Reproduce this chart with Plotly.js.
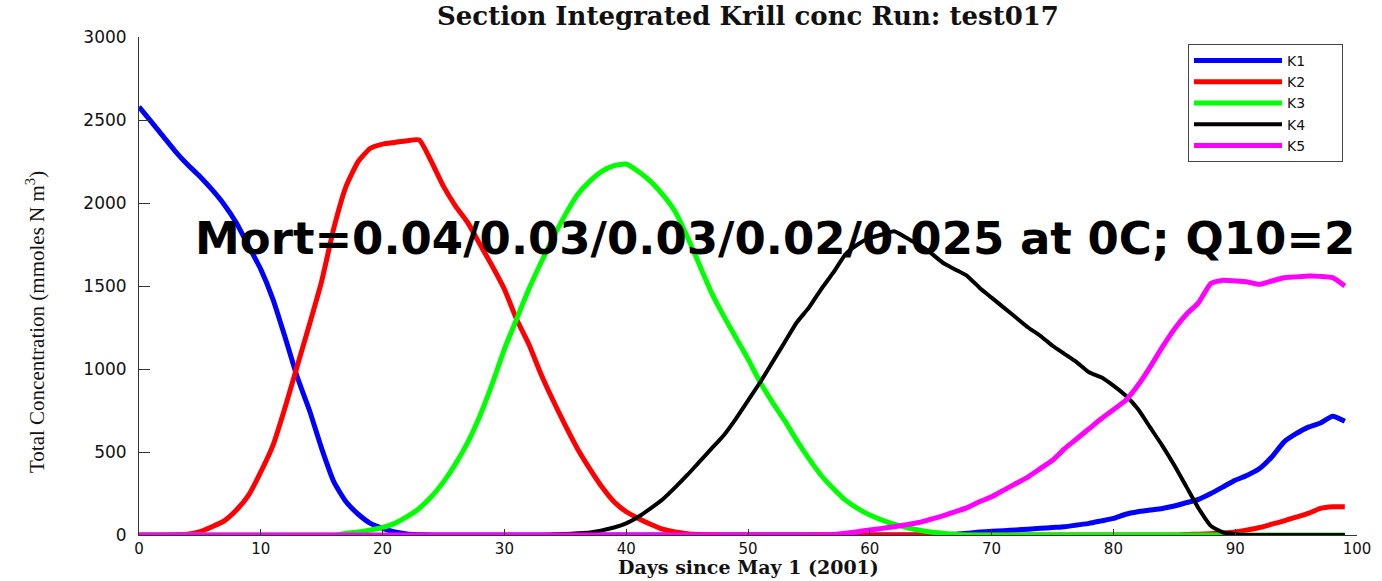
<!DOCTYPE html>
<html>
<head>
<meta charset="utf-8">
<script src="https://cdn.plot.ly/plotly-3.0.1.min.js"></script>
<style>
  html, body { margin: 0; padding: 0; background: #ffffff; }
  #chart { width: 1382px; height: 581px; }
</style>
</head>
<body>
<div id="chart"></div>
<script>
// ---- Data ----
const days = [
  0,1,2,3,4,5,6,7,8,9,
  10,11,12,13,14,15,16,17,18,19,
  20,21,22,23,24,25,26,27,28,29,
  30,31,32,33,34,35,36,37,38,39,
  40,41,42,43,44,45,46,47,48,49,
  50,51,52,53,54,55,56,57,58,59,
  60,61,62,63,64,65,66,67,68,69,
  70,71,72,73,74,75,76,77,78,79,
  80,81,82,83,84,85,86,87,88,89,
  90,91,92,93,94,95,96,97,98,99
];

const K1 = [
  2580,2490,2400,2310,2230,2160,2080,1990,1880,1740,
  1600,1420,1190,950,750,520,320,200,125,70,
  40,18,6,2,0,0,0,0,0,0,
  0,0,0,0,0,0,0,0,0,0,
  0,0,0,0,0,0,0,0,0,0,
  0,0,0,0,0,0,0,0,0,0,
  0,0,0,0,0,0,0,5,10,18,
  22,26,30,35,40,45,50,60,70,85,
  100,125,140,150,160,175,195,215,250,290,
  330,360,400,470,560,610,650,675,715,685
];

const K2 = [
  0,0,0,2,5,20,50,85,150,240,
  380,540,770,1020,1270,1530,1850,2100,2250,2330,
  2355,2365,2375,2380,2250,2100,1980,1880,1750,1620,
  1480,1300,1150,970,810,660,520,400,290,200,
  140,100,65,35,18,8,3,0,0,0,
  0,0,0,0,0,0,0,0,0,0,
  0,0,0,0,0,0,0,0,0,0,
  0,0,0,0,0,0,0,0,0,0,
  0,0,0,0,0,0,3,5,8,12,
  18,30,45,65,85,108,130,160,170,170
];

const K3 = [
  0,0,0,0,0,0,0,0,0,0,
  0,0,0,0,0,0,0,10,18,30,
  45,70,110,160,230,320,430,560,720,910,
  1120,1300,1480,1640,1790,1930,2050,2130,2190,2225,
  2235,2190,2130,2050,1950,1800,1630,1460,1320,1190,
  1060,920,800,690,570,460,360,280,210,160,
  120,90,65,45,30,18,10,3,0,0,
  0,0,0,0,0,0,0,0,0,0,
  0,0,0,0,0,0,0,0,0,0,
  0,0,0,0,0,0,0,0,0,0
];

const K4 = [
  0,0,0,0,0,0,0,0,0,0,
  0,0,0,0,0,0,0,0,0,0,
  0,0,0,0,0,0,0,0,0,0,
  0,0,0,0,3,6,10,15,28,45,
  70,110,160,215,285,360,440,520,600,700,
  810,920,1040,1160,1280,1370,1480,1580,1690,1750,
  1790,1810,1830,1790,1750,1700,1640,1600,1560,1490,
  1430,1370,1310,1250,1200,1140,1090,1040,980,950,
  900,840,760,650,540,420,290,160,55,15,
  5,0,0,0,0,0,0,0,0,0
];

const K5 = [
  0,0,0,0,0,0,0,0,0,0,
  0,0,0,0,0,0,0,0,0,0,
  0,0,0,0,0,0,0,0,0,0,
  0,0,0,0,0,0,0,0,0,0,
  0,0,0,0,0,0,0,0,0,0,
  0,0,0,0,0,0,0,3,10,20,
  30,40,50,62,75,95,115,140,165,200,
  230,270,310,350,400,450,520,580,640,700,
  755,810,900,1010,1130,1240,1330,1400,1515,1535,
  1530,1524,1510,1530,1550,1555,1560,1558,1550,1500
];

const seriesNames = ['K1','K2','K3','K4','K5'];
const seriesColors = ['#0000ff','#ff0000','#00ff00','#000000','#ff00ff'];
const seriesWidths = [5,5,5,4,5];
const seriesValues = [K1,K2,K3,K4,K5];

const xTickVals = [0,10,20,30,40,50,60,70,80,90,100];
const xTickText = ['0','10','20','30','40','50','60','70','80','90','100'];
const yTickVals = [0,500,1000,1500,2000,2500,3000];
const yTickText = ['0','500','1000','1500','2000','2500','3000'];

const titleText = '<b>Section Integrated Krill conc Run: test017</b>';
const xTitleText = '<b>Days since May 1 (2001)</b>';
const yTitleText = 'Total Concentration (mmoles N m<sup>3</sup>)';
const noteText = '<b>Mort=0.04/0.03/0.03/0.02/0.025 at 0C; Q10=2</b>';

// ---- Build traces ----
const pad = '\u00a0\u00a0\u00a0\u00a0\u00a0\u00a0\u00a0';
const traces = seriesNames.map((name, i) => ({
  type: 'scatter',
  mode: 'lines',
  name: name + pad,
  x: days,
  y: seriesValues[i],
  line: { color: seriesColors[i], width: seriesWidths[i], shape: 'spline', smoothing: 0.5 }
}));

const W = 1382, H = 581;
const mL = 139, mR = 25, mT = 37, mB = 46;
const plotW = W - mL - mR, plotH = H - mT - mB;

const layout = {
  width: W,
  height: H,
  margin: { l: mL, r: mR, t: mT, b: mB, pad: 0 },
  paper_bgcolor: '#ffffff',
  plot_bgcolor: '#ffffff',
  title: {
    text: titleText,
    font: { family: 'DejaVu Serif', size: 26, color: '#111111' },
    x: 0.5, xref: 'paper', xanchor: 'center',
    y: 1 - 16 / H, yref: 'container', yanchor: 'middle'
  },
  xaxis: {
    range: [0, 100],
    tickmode: 'array',
    tickvals: xTickVals,
    ticktext: xTickText,
    ticks: 'inside',
    ticklen: 6,
    tickwidth: 1,
    tickcolor: '#333333',
    showline: true,
    linecolor: '#333333',
    linewidth: 1,
    showgrid: false,
    zeroline: false,
    ticklabelstandoff: 0,
    tickfont: { family: 'DejaVu Sans', size: 15, color: '#111111' }
  },
  yaxis: {
    range: [0, 3000],
    tickmode: 'array',
    tickvals: yTickVals,
    ticktext: yTickText,
    ticks: 'inside',
    ticklen: 11,
    tickwidth: 1,
    tickcolor: '#333333',
    showline: true,
    linecolor: '#333333',
    linewidth: 1,
    showgrid: false,
    zeroline: false,
    ticklabelstandoff: 8,
    tickfont: { family: 'DejaVu Sans', size: 17, color: '#111111' }
  },
  legend: {
    x: (1343 - mL) / plotW,
    y: (535 - 44) / plotH,
    xanchor: 'right',
    yanchor: 'top',
    bgcolor: '#ffffff',
    bordercolor: '#444444',
    borderwidth: 1,
    itemwidth: 88,
    tracegroupgap: 0,
    font: { family: 'DejaVu Sans', size: 14, color: '#111111' }
  },
  annotations: [
    {
      xref: 'paper', yref: 'paper',
      x: 0.5,
      y: -(567 - 535) / plotH,
      xanchor: 'center', yanchor: 'middle',
      text: xTitleText,
      showarrow: false,
      font: { family: 'DejaVu Serif', size: 19, color: '#111111' }
    },
    {
      xref: 'paper', yref: 'paper',
      x: (35 - mL) / plotW,
      y: (535 - 322) / plotH,
      xanchor: 'center', yanchor: 'middle',
      textangle: -90,
      text: yTitleText,
      showarrow: false,
      font: { family: 'Liberation Serif', size: 21, color: '#111111' }
    },
    {
      xref: 'paper', yref: 'paper',
      x: (193 - mL) / plotW,
      y: (535 - 238) / plotH,
      xanchor: 'left', yanchor: 'middle',
      text: noteText,
      showarrow: false,
      font: { family: 'DejaVu Sans', size: 45, color: '#000000' }
    }
  ]
};

Plotly.newPlot('chart', traces, layout, { displayModeBar: false, staticPlot: true });
</script>
</body>
</html>
